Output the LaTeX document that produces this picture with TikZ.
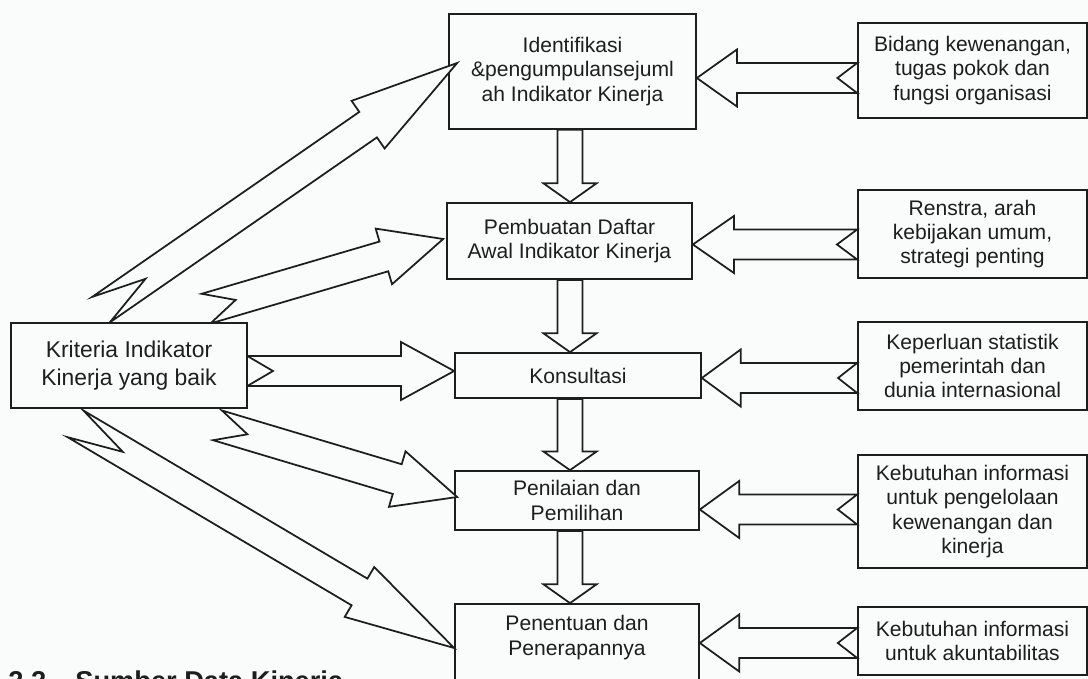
\documentclass[tikz,border=0pt]{standalone}
\usepackage{fontspec}
\setmainfont{Liberation Sans}
\usetikzlibrary{calc}
\definecolor{linec}{HTML}{1E1E1E}
\definecolor{textc}{HTML}{1E1E1E}
\definecolor{paper}{HTML}{FAFCFC}
\tikzset{
  box/.style={draw=linec, line width=1pt, fill=paper, inner sep=0pt, align=center,
    text=textc, font=\fontsize{12}{13.9}\selectfont},
  blk/.style={draw=linec, line width=1pt, fill=paper, line join=miter},
}
% block arrow: #1 tail (coord), #2 tip (coord), #3 shaft half width, #4 head half width,
% #5 head length fraction, #6 notch depth fraction
\newcommand\blkarrow[6]{%
  \coordinate (bS) at #1;
  \coordinate (bE) at #2;
  \coordinate (bH) at ($(bE)!#5!(bS)$);
  \coordinate (bN) at ($(bS)!#6!(bE)$);
  \draw[blk] ($(bS)!#3!90:(bE)$) -- ($(bH)!#3!-90:(bS)$) -- ($(bH)!#4!-90:(bS)$)
    -- (bE) -- ($(bH)!#4!90:(bS)$) -- ($(bH)!#3!90:(bS)$) -- ($(bS)!#3!-90:(bE)$)
    -- (bN) -- cycle;
}
\begin{document}
\begin{tikzpicture}[x=0.02cm, y=0.02cm]
\useasboundingbox (0,0) rectangle (1088,-679);
\clip (0,0) rectangle (1088,-679);
\fill[paper] (0,0) rectangle (1088,-679);

% centre column
\node[box, minimum width=4.94cm, minimum height=2.30cm] (B1) at (572.5,-71.5) {Identifikasi\\\&pengumpulansejuml\\ah Indikator Kinerja};
\node[box, minimum width=4.90cm, minimum height=1.52cm] (B2) at (569.5,-241) {Pembuatan Daftar\\Awal Indikator Kinerja};
\node[box, minimum width=4.92cm, minimum height=0.90cm] (B3) at (578,-375.5) {Konsultasi};
\node[box, minimum width=4.88cm, minimum height=1.18cm] (B4) at (577,-500.5) {Penilaian dan\\Pemilihan};
\node[box, minimum width=4.88cm, minimum height=1.92cm,
  label={[anchor=north, yshift=-0.12cm, align=center, text=textc,
          font=\fontsize{12}{13.9}\selectfont]north:Penentuan dan\\Penerapannya}] (B5) at (577,-652) {};

% right column
\node[box, minimum width=4.58cm, minimum height=1.90cm] (R1) at (972.5,-70.5) {Bidang kewenangan,\\tugas pokok dan\\fungsi organisasi};
\node[box, minimum width=4.58cm, minimum height=1.76cm] (R2) at (972.5,-234) {Renstra, arah\\kebijakan umum,\\strategi penting};
\node[box, minimum width=4.58cm, minimum height=1.76cm] (R3) at (972.5,-366) {Keperluan statistik\\pemerintah dan\\dunia internasional};
\node[box, minimum width=4.58cm, minimum height=2.26cm] (R4) at (972.5,-511.5) {Kebutuhan informasi\\untuk pengelolaan\\kewenangan dan\\kinerja};
\node[box, minimum width=4.58cm, minimum height=1.36cm] (R5) at (972.5,-641) {Kebutuhan informasi\\untuk akuntabilitas};

% left box outline position (drawn on top at the end)
\node[inner sep=0pt, minimum width=4.72cm, minimum height=1.70cm] (K0) at (129,-365.5) {};

% vertical arrows
\coordinate (vx) at (570,0);
\blkarrow{(vx |- B1.south)}{(vx |- B2.north)}{0.25cm}{0.53cm}{0.26}{0}
\blkarrow{(vx |- B2.south)}{(vx |- B3.north)}{0.25cm}{0.53cm}{0.26}{0}
\blkarrow{(vx |- B3.south)}{(vx |- B4.north)}{0.25cm}{0.53cm}{0.26}{0}
\blkarrow{(vx |- B4.south)}{(vx |- B5.north)}{0.25cm}{0.53cm}{0.26}{0}

% arrows from the right column
\blkarrow{($(R1.west)+(0,-7.5)$)}{(B1.east |- bS)}{0.3cm}{0.57cm}{0.25}{0.123}
\blkarrow{($(R2.west)+(0,-10.5)$)}{(B2.east |- bS)}{0.3cm}{0.57cm}{0.25}{0.123}
\blkarrow{($(R3.west)+(0,-12)$)}{(B3.east |- bS)}{0.3cm}{0.57cm}{0.25}{0.123}
\blkarrow{($(R4.west)+(0,2)$)}{(B4.east |- bS)}{0.3cm}{0.57cm}{0.25}{0.123}
\blkarrow{($(R5.west)+(0,-2)$)}{(B5.east |- bS)}{0.3cm}{0.57cm}{0.25}{0.123}

% arrows from the left box
\blkarrow{($(K0.north)+(-28,13)$)}{($(B1.west)+(9,8.5)$)}{0.31cm}{0.58cm}{0.25}{0.125}
\blkarrow{($(K0.north)+(77,14)$)}{($(B2.west)+(-3,2)$)}{0.31cm}{0.58cm}{0.25}{0.125}
\blkarrow{($(K0.east)+(0,-5.5)$)}{(B3.west |- bS)}{0.3cm}{0.58cm}{0.257}{0.124}
\blkarrow{($(K0.south)+(88.5,-17)$)}{($(B4.west)+(3,3.5)$)}{0.31cm}{0.58cm}{0.25}{0.125}
\blkarrow{($(K0.south)+(-53.5,-15.5)$)}{($(B5.west)+(0,4)$)}{0.31cm}{0.58cm}{0.25}{0.125}

% left box on top
\node[box, font=\fontsize{13}{15.5}\selectfont, minimum width=4.72cm, minimum height=1.70cm] (K) at (K0) {Kriteria Indikator\\Kinerja yang baik};

% clipped heading at the bottom
\node[anchor=base west, inner sep=0pt, text=textc, font=\fontsize{15.5}{18}\selectfont\bfseries] (h1) at (8,-690) {2.2};
\node[anchor=base west, inner sep=0pt, text=textc, font=\fontsize{15.5}{18}\selectfont\bfseries] (h2) at (75,-690) {Sumber Data Kinerja};
\end{tikzpicture}
\end{document}
